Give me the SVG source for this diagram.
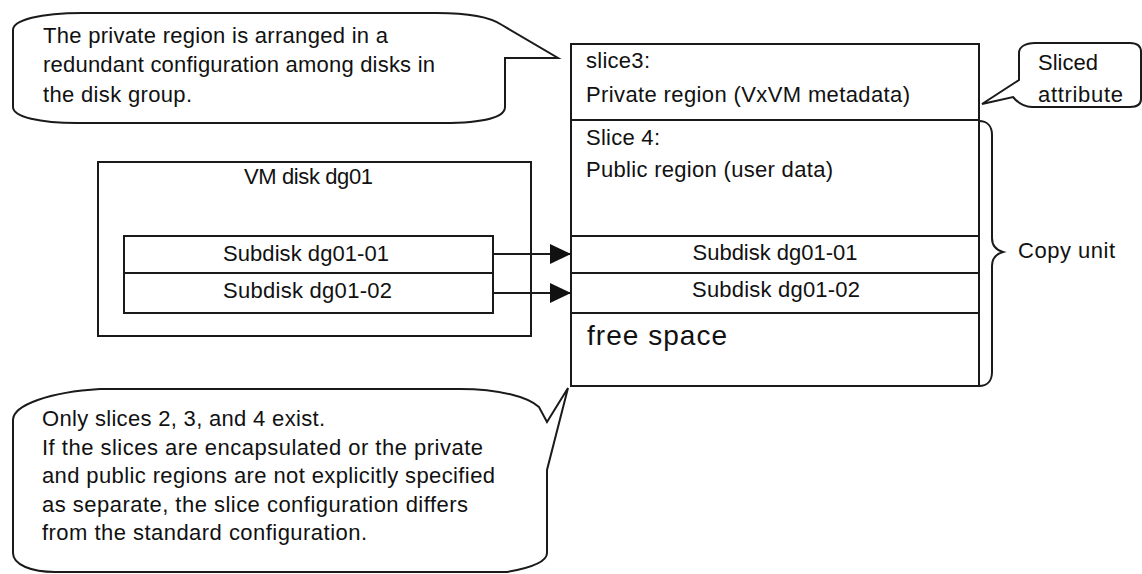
<svg xmlns="http://www.w3.org/2000/svg" width="1142" height="574" viewBox="0 0 1142 574">
<style>
.ln{fill:none;stroke:#1a1a1a;stroke-width:2}
.bx{fill:#fff;stroke:#1a1a1a;stroke-width:2}
.t{font-family:"Liberation Sans",Arial,sans-serif;font-size:22px;fill:#111}
.c{text-anchor:middle}
.big{font-size:28px}
</style>
<defs>
<marker id="ah" markerUnits="userSpaceOnUse" markerWidth="22" markerHeight="20" refX="21" refY="10" orient="auto">
<path d="M0,0 L21,10 L0,20 Z" fill="#111"/>
</marker>
</defs>
<rect width="1142" height="574" fill="#fff"/>

<g id="callout-private">
<path class="bx" d="M82,13 L437,13 C468,13 490,17 502,25 L558,58 L505,58 L505,107 C505,117 485,123 443,123 L77,123 C40,123 13,117 13,107 L13,30 C13,20 40,13 82,13 Z"/>
<text class="t" x="43" y="43" textLength="345">The private region is arranged in a</text>
<text class="t" x="43" y="72" textLength="392">redundant configuration among disks in</text>
<text class="t" x="43" y="102" textLength="149">the disk group.</text>
</g>

<g id="physical-disk">
<rect class="bx" x="571" y="44" width="408" height="342"/>
<line class="ln" x1="571" y1="120" x2="979" y2="120"/>
<line class="ln" x1="571" y1="236" x2="979" y2="236"/>
<line class="ln" x1="571" y1="273" x2="979" y2="273"/>
<line class="ln" x1="571" y1="313" x2="979" y2="313"/>
<text class="t" x="586" y="68" textLength="64">slice3:</text>
<text class="t" x="586" y="102" textLength="324">Private region (VxVM metadata)</text>
<text class="t" x="586" y="145" textLength="74">Slice 4:</text>
<text class="t" x="586" y="177" textLength="247">Public region (user data)</text>
<text class="t c" x="775" y="260" textLength="165">Subdisk dg01-01</text>
<text class="t c" x="776" y="297" textLength="168">Subdisk dg01-02</text>
<text class="t big" x="587" y="345" textLength="140">free space</text>
</g>

<g id="callout-sliced">
<path class="bx" d="M1035,43 L1130,43 C1137,43 1141,46 1141,52 L1141,99 C1141,104 1137,107 1130,107 L1032,107 C1024,107 1018,103 1013,97 L982,104 L1019,80 L1019,53 C1019,47 1025,43 1035,43 Z"/>
<text class="t" x="1038" y="70">Sliced</text>
<text class="t" x="1038" y="102" textLength="85">attribute</text>
</g>

<g id="copy-unit">
<path class="ln" d="M979,121 C987,121 992,126 992,135 L992,238 C992,246 996,250 1003,252 C996,254 992,258 992,266 L992,372 C992,381 987,386 979,386"/>
<text class="t" x="1018" y="258" textLength="97">Copy unit</text>
</g>

<g id="vm-disk">
<rect class="bx" x="98" y="162" width="433" height="174"/>
<text class="t c" x="308.5" y="184" textLength="129">VM disk dg01</text>
</g>

<g id="subdisk-01">
<rect class="bx" x="124" y="236" width="369" height="37"/>
<text class="t c" x="306" y="261" textLength="166">Subdisk dg01-01</text>
</g>

<g id="subdisk-02">
<rect class="bx" x="124" y="273" width="369" height="40"/>
<text class="t c" x="307.5" y="298" textLength="169">Subdisk dg01-02</text>
</g>

<g id="connectors">
<line class="ln" x1="493" y1="254" x2="571" y2="254" marker-end="url(#ah)"/>
<line class="ln" x1="493" y1="293" x2="571" y2="293" marker-end="url(#ah)"/>
</g>

<g id="callout-slices">
<path class="bx" d="M100,389 L460,389 C500,389 528,397 539,407 L547,422 L568,388 L547,470 L547,553 C547,562 530,568 507,572 L55,572 C32,572 13,565 13,553 L13,420 C13,405 50,392 100,389 Z"/>
<text class="t" x="42" y="426" textLength="283">Only slices 2, 3, and 4 exist.</text>
<text class="t" x="42" y="455" textLength="441">If the slices are encapsulated or the private</text>
<text class="t" x="42" y="483" textLength="453">and public regions are not explicitly specified</text>
<text class="t" x="42" y="512" textLength="426">as separate, the slice configuration differs</text>
<text class="t" x="42" y="540" textLength="325">from the standard configuration.</text>
</g>
</svg>
